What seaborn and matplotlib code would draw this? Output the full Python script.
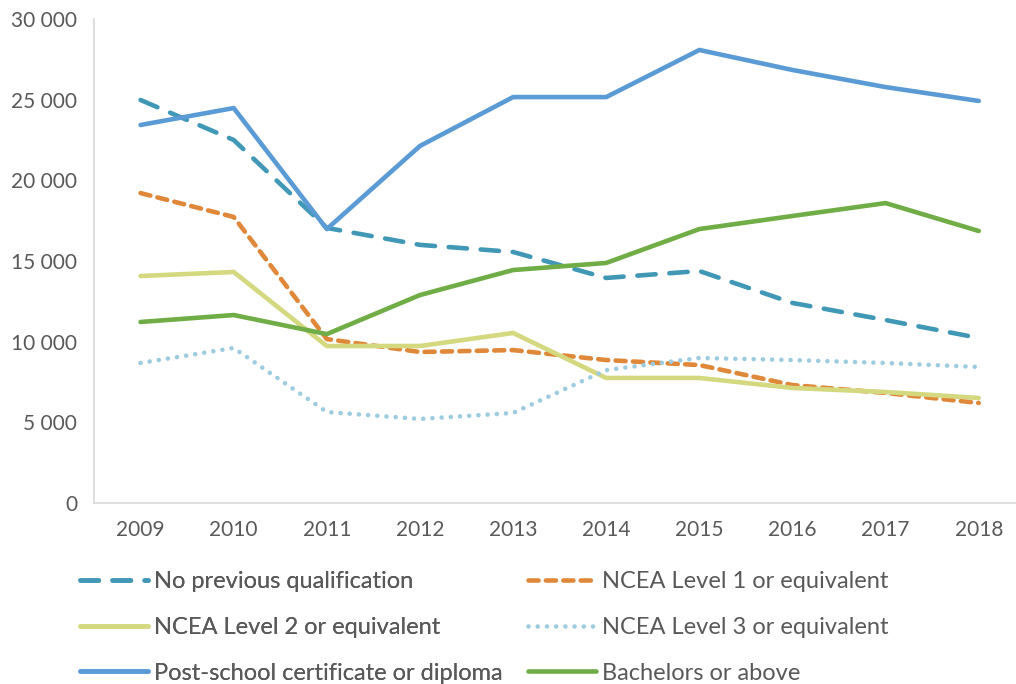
import pandas as pd
import matplotlib.pyplot as plt
import seaborn as sns
from matplotlib.ticker import FuncFormatter

years = ["2009", "2010", "2011", "2012", "2013", "2014", "2015", "2016", "2017", "2018"]

no_previous = [24980, 22500, 17050, 16000, 15560, 13950, 14380, 12400, 11340, 10230]
ncea_l1 = [19210, 17730, 10160, 9360, 9480, 8860, 8550, 7310, 6820, 6200]
ncea_l2 = [14070, 14320, 9730, 9730, 10540, 7750, 7750, 7130, 6880, 6510]
ncea_l3 = [8680, 9610, 5640, 5210, 5580, 8240, 8990, 8860, 8680, 8430]
post_school = [23430, 24480, 16980, 22130, 25160, 25160, 28080, 26840, 25780, 24920]
bachelors = [11220, 11650, 10470, 12890, 14440, 14880, 16980, 17790, 18590, 16860]

series_names = [
    "No previous qualification",
    "NCEA Level 1 or equivalent",
    "NCEA Level 2 or equivalent",
    "NCEA Level 3 or equivalent",
    "Post-school certificate or diploma",
    "Bachelors or above",
]
series_values = [no_previous, ncea_l1, ncea_l2, ncea_l3, post_school, bachelors]

colors = ["#4198B6", "#E0883A", "#D4D87F", "#9DCBE0", "#5B9BD5", "#70AD47"]
dashes = [(4, 3), (2.2, 1.6), None, (0.01, 2), None, None]

sns.set_theme(style="white")
plt.rcParams["font.family"] = ["Lato", "DejaVu Sans"]

fig = plt.figure(figsize=(10.16, 6.84), dpi=100)
ax = fig.add_axes([94 / 1016, 1 - 503 / 684, (1016 - 94) / 1016, (503 - 19) / 684])

handles = []
for name, vals, col, dsh in zip(series_names, series_values, colors, dashes):
    df = pd.DataFrame({"x": range(len(years)), "y": vals})
    sns.lineplot(data=df, x="x", y="y", ax=ax, color=col, linewidth=3.3,
                 solid_capstyle="round", dash_capstyle="round")
    line = ax.lines[-1]
    if dsh is not None:
        line.set_dashes(dsh)
    handles.append(line)

ax.set_xlim(-0.5, 9.4)
ax.set_ylim(0, 30000)
ax.set_yticks(range(0, 30001, 5000))
ax.yaxis.set_major_formatter(FuncFormatter(lambda v, p: f"{int(v):,}".replace(",", " ")))
ax.set_xticks(range(len(years)))
ax.set_xticklabels(years)
ax.set_xlabel("")
ax.set_ylabel("")
ax.tick_params(axis="both", labelsize=15, colors="#595959", length=0, pad=12)
for s in ["top", "right"]:
    ax.spines[s].set_visible(False)
for s in ["left", "bottom"]:
    ax.spines[s].set_color("#D9D9D9")
    ax.spines[s].set_linewidth(1.2)

# two legend columns, row-major order as in the original
leg_kw = dict(loc="upper left", frameon=False, fontsize=17, labelcolor="#595959",
              handlelength=2.9, handletextpad=0.25, labelspacing=1.05,
              borderaxespad=0, borderpad=0)
left = fig.legend(handles[0::2], series_names[0::2],
                  bbox_to_anchor=(80 / 1016, 1 - 571 / 684), **leg_kw)
fig.add_artist(left)
fig.legend(handles[1::2], series_names[1::2],
           bbox_to_anchor=(528 / 1016, 1 - 571 / 684), **leg_kw)

fig.savefig("out.png", dpi=100)
